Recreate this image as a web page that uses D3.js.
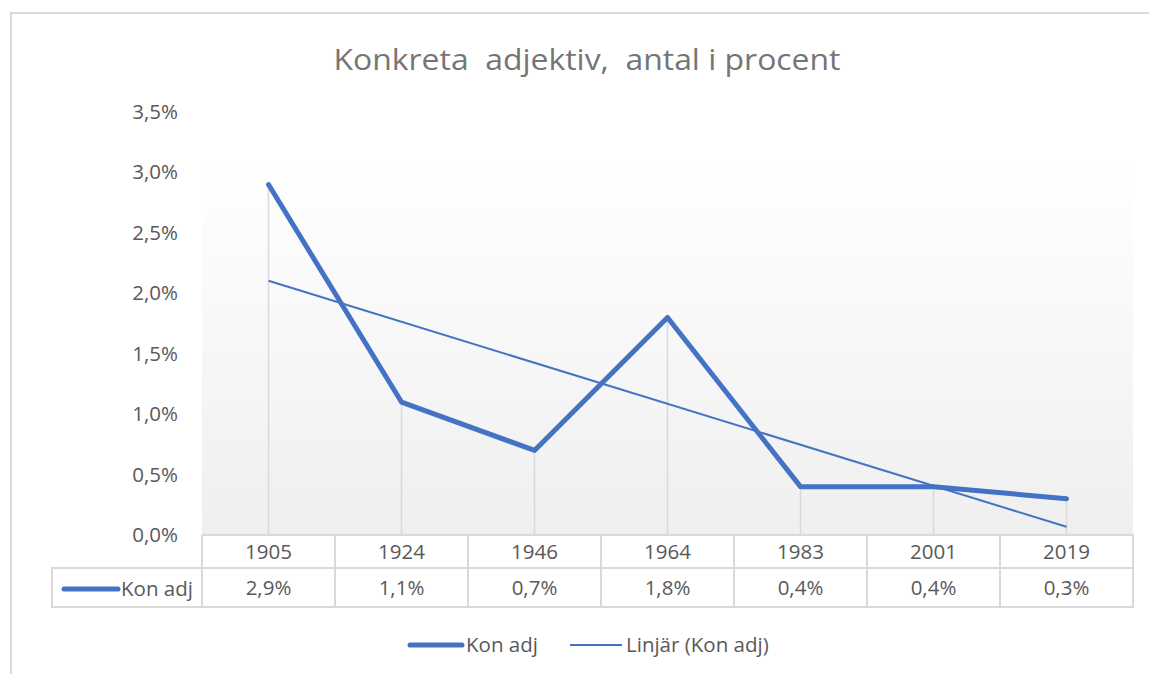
<!DOCTYPE html>
<html>
<head>
<meta charset="utf-8">
<script src="https://cdn.jsdelivr.net/npm/d3@7/dist/d3.min.js"></script>
<style>
  body { margin: 0; background: #fff; }
  svg { display: block; font-family: 'Open Sans', sans-serif; }
</style>
</head>
<body>
<div id="chart"></div>
<script>
const years = ['1905', '1924', '1946', '1964', '1983', '2001', '2019'];
const konAdj = [2.9, 1.1, 0.7, 1.8, 0.4, 0.4, 0.3];
const yTicks = [0, 0.5, 1, 1.5, 2, 2.5, 3, 3.5];
const title = 'Konkreta\u00a0 adjektiv,\u00a0 antal i procent';
const seriesName = 'Kon adj';
const trendName = 'Linjär (Kon adj)';

const w = 1149;
const h = 674;
const blue = '#4472c4';
const textCol = '#595959';
const lineCol = '#d9d9d9';
const fs = 20.5;

const fmt = (v) => d3.format('.1f')(v).replace('.', ',') + '%';

const svg = d3.select('#chart').append('svg').attr('width', w).attr('height', h);

// chart frame
svg.append('path')
  .attr('d', `M11,${h} V13 H${w}`)
  .attr('fill', 'none')
  .attr('stroke', lineCol)
  .attr('stroke-width', 2);

const x = d3.scaleBand().domain(years).range([202, 1133]);
const y = d3.scaleLinear().domain([0, 3.5]).range([535, 112]);

// plot background
const grad = svg.append('defs').append('linearGradient')
  .attr('id', 'bg').attr('x1', 0).attr('y1', 0).attr('x2', 0).attr('y2', 1);
grad.append('stop').attr('offset', '0%').attr('stop-color', '#ffffff');
grad.append('stop').attr('offset', '12%').attr('stop-color', '#ffffff');
grad.append('stop').attr('offset', '100%').attr('stop-color', '#efefef');
svg.append('rect')
  .attr('x', x.range()[0]).attr('y', y(3.5))
  .attr('width', x.range()[1] - x.range()[0]).attr('height', y(0) - y(3.5))
  .attr('fill', 'url(#bg)');

svg.append('text')
  .attr('x', 587).attr('y', 70)
  .attr('text-anchor', 'middle')
  .attr('font-size', 30)
  .attr('fill', '#757575')
  .attr('textLength', 507)
  .attr('lengthAdjust', 'spacingAndGlyphs')
  .text(title);

// y axis
const axisY = d3.axisLeft(y).tickValues(yTicks).tickSize(0).tickPadding(0).tickFormat(fmt);
svg.append('g')
  .attr('transform', 'translate(178,0)')
  .call(axisY)
  .call((g) => g.select('.domain').remove())
  .call((g) => g.selectAll('text').attr('font-size', fs).attr('fill', textCol).attr('font-family', "'Open Sans', sans-serif"));

const cx = (d) => x(d) + x.bandwidth() / 2;

// drop lines
svg.append('g').selectAll('line')
  .data(years)
  .join('line')
  .attr('x1', cx).attr('x2', cx)
  .attr('y1', (d, i) => y(konAdj[i]))
  .attr('y2', y(0))
  .attr('stroke', lineCol)
  .attr('stroke-width', 1.5);

// linear trend (least squares over category index)
const idx = years.map((d, i) => i + 1);
const mx = d3.mean(idx);
const my = d3.mean(konAdj);
const slope = d3.sum(idx, (t, i) => (t - mx) * (konAdj[i] - my)) / d3.sum(idx, (t) => (t - mx) ** 2);
const trend = idx.map((t) => my + slope * (t - mx));

const line = d3.line().x((d, i) => cx(years[i])).y((d) => y(d));

svg.append('path')
  .datum(konAdj)
  .attr('d', line)
  .attr('fill', 'none')
  .attr('stroke', blue)
  .attr('stroke-width', 5)
  .attr('stroke-linejoin', 'round')
  .attr('stroke-linecap', 'round');

svg.append('path')
  .datum([trend[0], trend[trend.length - 1]])
  .attr('d', d3.line().x((d, i) => cx(years[i * (years.length - 1)])).y((d) => y(d)))
  .attr('fill', 'none')
  .attr('stroke', blue)
  .attr('stroke-width', 2);

// data table
const rowTop = y(0);
const rowMid = 568;
const rowBot = 607;
const tleft = 52;
const tg = svg.append('g').attr('stroke', lineCol).attr('stroke-width', 2).attr('fill', 'none');
tg.append('path').attr('d', `M${x.range()[0]},${rowTop} H${x.range()[1]} V${rowBot} H${tleft} V${rowMid} H${x.range()[1]}`);
tg.selectAll('line.v')
  .data(years)
  .join('line')
  .attr('x1', (d) => x(d)).attr('x2', (d) => x(d))
  .attr('y1', rowTop).attr('y2', rowBot);

svg.append('g').selectAll('text')
  .data(years)
  .join('text')
  .attr('x', cx).attr('y', (rowTop + rowMid) / 2 + 7)
  .attr('text-anchor', 'middle')
  .attr('font-size', fs).attr('fill', textCol)
  .text((d) => d);

svg.append('g').selectAll('text')
  .data(konAdj)
  .join('text')
  .attr('x', (d, i) => cx(years[i])).attr('y', (rowMid + rowBot) / 2 + 7)
  .attr('text-anchor', 'middle')
  .attr('font-size', fs).attr('fill', textCol)
  .text((d) => fmt(d));

// series key inside table
svg.append('line')
  .attr('x1', 64).attr('x2', 118).attr('y1', 589).attr('y2', 589)
  .attr('stroke', blue).attr('stroke-width', 5).attr('stroke-linecap', 'round');
svg.append('text')
  .attr('x', 121).attr('y', 596)
  .attr('font-size', fs).attr('fill', textCol)
  .text(seriesName);

// legend
const legend = [
  { name: seriesName, x: 410, width: 5 },
  { name: trendName, x: 570, width: 2 }
];
const lg = svg.append('g').selectAll('g')
  .data(legend)
  .join('g')
  .attr('transform', (d) => `translate(${d.x},645)`);
lg.append('line')
  .attr('x1', 0).attr('x2', 52)
  .attr('stroke', blue)
  .attr('stroke-width', (d) => d.width)
  .attr('stroke-linecap', (d) => (d.width > 3 ? 'round' : 'butt'));
lg.append('text')
  .attr('x', 56).attr('y', 7)
  .attr('font-size', fs).attr('fill', textCol)
  .text((d) => d.name);
</script>
</body>
</html>
